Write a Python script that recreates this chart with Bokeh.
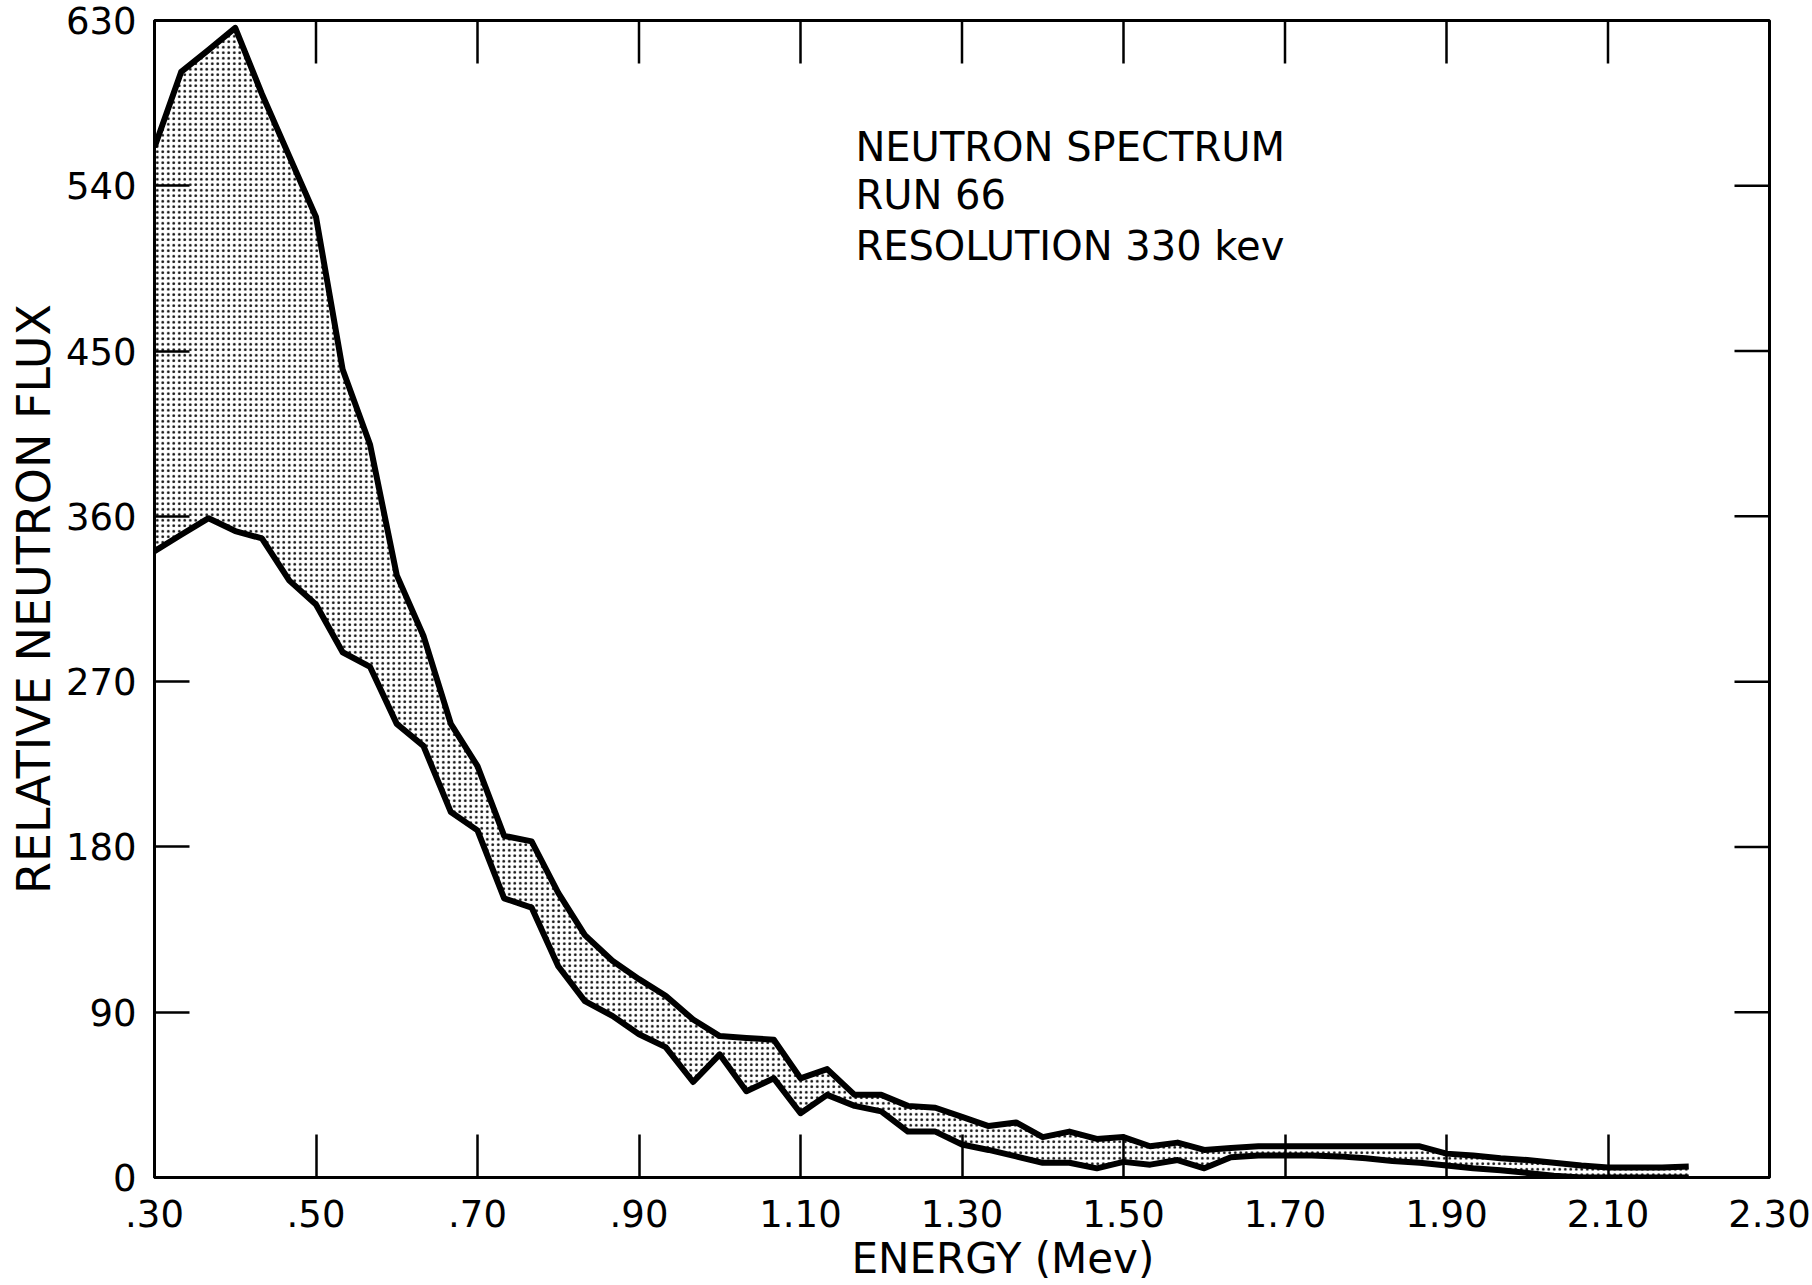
import math
from bokeh.plotting import figure
from bokeh.models import FixedTicker, Label, Range1d, Title
from bokeh.embed import file_html
from bokeh.resources import INLINE

# ---- data ----
energy = [0.300, 0.333, 0.367, 0.400, 0.433, 0.467, 0.500, 0.533, 0.567, 0.600,
          0.633, 0.667, 0.700, 0.733, 0.767, 0.800, 0.833, 0.867, 0.900, 0.933,
          0.967, 1.000, 1.033, 1.067, 1.100, 1.133, 1.167, 1.200, 1.233, 1.267,
          1.300, 1.333, 1.367, 1.400, 1.433, 1.467, 1.500, 1.533, 1.567, 1.600,
          1.633, 1.667, 1.700, 1.733, 1.767, 1.800, 1.833, 1.867, 1.900, 1.933,
          1.967, 2.000, 2.033, 2.067, 2.100, 2.133, 2.167, 2.200]
flux_upper = [561, 602, 614, 626, 590, 556, 523, 440, 399, 328,
              295, 247, 224, 186, 183, 155, 132, 118, 108, 99,
              86, 77, 76, 75, 54, 59, 45, 45, 39, 38,
              33, 28, 30, 22, 25, 21, 22, 17, 19, 15,
              16, 17, 17, 17, 17, 17, 17, 17, 13, 12,
              10.5, 9.5, 8, 6.5, 5.5, 5.5, 5.5, 6]
flux_lower = [341, 350, 359, 352, 348, 325, 312, 286, 278, 247,
              235, 199, 189, 152, 147, 115, 96, 88, 78, 71,
              52, 67, 47, 54, 35, 45, 39, 36, 25, 25,
              18, 15, 11.5, 8, 8, 5, 8.5, 7, 9.5, 5,
              11, 12, 12, 12, 11.5, 10.5, 9, 8, 6.5, 5,
              4, 2.5, 1, 0, 0, 0, 0, 0]

x_min, x_max = 0.3, 2.3
y_min, y_max = 0, 630
x_ticks = [0.3, 0.5, 0.7, 0.9, 1.1, 1.3, 1.5, 1.7, 1.9, 2.1, 2.3]
x_tick_labels = [".30", ".50", ".70", ".90", "1.10", "1.30", "1.50", "1.70", "1.90", "2.10", "2.30"]
y_ticks = [0, 90, 180, 270, 360, 450, 540, 630]

x_title = "ENERGY (Mev)"
y_title = "RELATIVE NEUTRON FLUX"
notes = ["NEUTRON SPECTRUM", "RUN 66", "RESOLUTION 330 kev"]

FONT = "DejaVu Sans"

p = figure(width=1812, height=1285, x_range=Range1d(x_min, x_max), y_range=Range1d(y_min, y_max),
           output_backend="svg", toolbar_location=None,
           min_border_left=154, min_border_right=43, min_border_top=20, min_border_bottom=106)
p.grid.visible = False
p.background_fill_color = "white"
p.border_fill_color = "white"
p.outline_line_color = "black"
p.outline_line_width = 3

p.varea(x=energy, y1=flux_lower, y2=flux_upper, fill_color="white",
        hatch_pattern="dot", hatch_color="black", hatch_scale=5.5, hatch_weight=3.4, hatch_alpha=0.95)
p.line(energy, flux_upper, line_color="black", line_width=6, line_join="round")
p.line(energy, flux_lower, line_color="black", line_width=6, line_join="round")

# inward ticks on the top and right edges of the frame
p.ray(x=x_ticks, y=[y_max] * len(x_ticks), length=43, length_units="screen",
      angle=-math.pi / 2, line_color="black", line_width=2.5)
p.ray(x=[x_max] * len(y_ticks), y=y_ticks, length=35, length_units="screen",
      angle=math.pi, line_color="black", line_width=2.5)

xa = p.xaxis[0]
xa.ticker = FixedTicker(ticks=x_ticks)
xa.major_label_overrides = {t: l for t, l in zip(x_ticks, x_tick_labels)}
ya = p.yaxis[0]
ya.ticker = FixedTicker(ticks=y_ticks)
ya.axis_label = y_title
ya.axis_label_text_font = FONT
ya.axis_label_text_font_size = "46px"
ya.axis_label_text_font_style = "normal"
ya.axis_label_text_color = "black"
ya.axis_label_standoff = 2

for ax, tin in ((xa, 43), (ya, 35)):
    ax.major_tick_in = tin
    ax.major_tick_out = 0
    ax.minor_tick_line_color = None
    ax.major_tick_line_width = 2.5
    ax.major_tick_line_color = "black"
    ax.axis_line_width = 3
    ax.axis_line_color = "black"
    ax.major_label_text_font = FONT
    ax.major_label_text_font_size = "37px"
    ax.major_label_text_color = "black"
xa.major_label_standoff = 22
ya.major_label_standoff = 18

p.add_layout(Title(text=x_title, align="left", offset=697, standoff=5, text_font=FONT,
                   text_font_size="42px", text_font_style="normal", text_color="black"), "below")

for txt, yv in zip(notes, [561, 535, 507]):
    p.add_layout(Label(x=1.168, y=yv, text=txt, text_font=FONT, text_font_size="40px",
                       text_baseline="middle", text_color="black"))

open("out.html", "w").write(file_html(p, INLINE))
